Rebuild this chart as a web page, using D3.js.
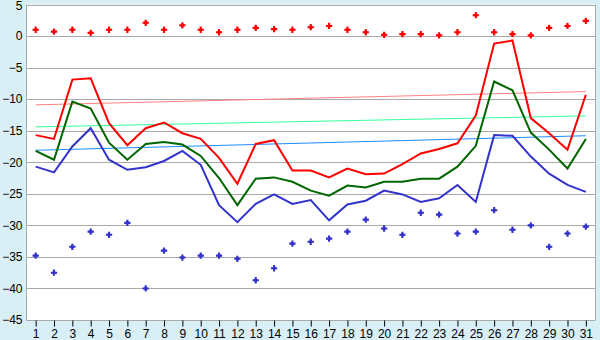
<!DOCTYPE html>
<html>
<head>
<meta charset="utf-8">
<script src="https://cdn.jsdelivr.net/npm/d3@7"></script>
<style>
  body { margin: 0; background: #d9eff6; }
  svg { display: block; font-family: 'DejaVu Sans', Verdana, sans-serif; }
</style>
</head>
<body>
<script>
// days of the month
let days = d3.range(1, 32);

// daily series
let maxTemp = [-15.7, -16.3, -6.9, -6.7, -13.8, -17.3, -14.6, -13.7, -15.4, -16.3,
  -19.3, -23.4, -17.1, -16.5, -21.3, -21.3, -22.4, -21.0, -21.9, -21.8,
  -20.3, -18.6, -17.9, -17.0, -12.6, -1.2, -0.7, -13.0, -15.4, -18.0, -9.3];
let meanTemp = [-18.2, -19.6, -10.4, -11.5, -16.9, -19.6, -17.1, -16.8, -17.2, -19.0,
  -22.5, -26.8, -22.6, -22.4, -23.1, -24.5, -25.3, -23.7, -24.0, -23.1,
  -23.1, -22.6, -22.6, -20.7, -17.4, -7.2, -8.6, -15.3, -18.0, -21.0, -16.3];
let minTemp = [-20.7, -21.6, -17.5, -14.6, -19.6, -21.2, -20.8, -19.8, -18.2, -20.4,
  -26.8, -29.5, -26.6, -25.1, -26.6, -26.0, -29.2, -26.7, -26.1, -24.5,
  -25.1, -26.3, -25.7, -23.6, -26.3, -15.7, -15.8, -19.1, -21.8, -23.6, -24.7];
let recordHigh = [1.0, 0.7, 1.0, 0.5, 1.0, 1.0, 2.1, 1.0, 1.7, 1.0,
  0.6, 1.0, 1.3, 1.1, 1.0, 1.4, 1.6, 1.0, 0.6, 0.2,
  0.3, 0.3, 0.1, 0.6, 3.3, 0.6, 0.3, 0.1, 1.3, 1.6, 2.4];
let recordLow = [-34.8, -37.5, -33.4, -31.0, -31.5, -29.6, -40.0, -34.0, -35.1, -34.8,
  -34.8, -35.3, -38.7, -36.8, -32.9, -32.6, -32.1, -31.0, -29.1, -30.5,
  -31.5, -28.0, -28.3, -31.3, -31.0, -27.6, -30.7, -30.0, -33.4, -31.3, -30.2];

// trend lines: value on day 1 and day 31
let trendMax = [-10.9, -8.8];
let trendMean = [-14.4, -12.65];
let trendMin = [-18.1, -15.8];

let yTicks = d3.range(-45, 6, 5);

let width = 600;
let height = 340;
let plot = { left: 26.5, right: 595, top: 4.5, bottom: 320 };

let svg = d3.select('body')
  .append('svg')
  .attr('width', width)
  .attr('height', height);

// background
svg.append('rect')
  .attr('width', width)
  .attr('height', height)
  .attr('fill', '#d9eff6');

svg.append('rect')
  .attr('x', plot.left)
  .attr('y', plot.top)
  .attr('width', plot.right - plot.left)
  .attr('height', plot.bottom - plot.top)
  .attr('fill', '#ffffff');

//scales
let x = d3.scalePoint()
  .domain(days)
  .range([plot.left, plot.right])
  .padding(0.5);

let y = d3.scaleLinear()
  .domain([-45, 5])
  .range([plot.bottom, plot.top]);

// horizontal grid
svg.append('g')
  .selectAll('line')
  .data(yTicks)
  .enter()
  .append('line')
  .attr('x1', plot.left)
  .attr('x2', plot.right)
  .attr('y1', function (d) { return Math.round(y(d)) + 0.5; })
  .attr('y2', function (d) { return Math.round(y(d)) + 0.5; })
  .attr('stroke', '#aaaaaa');

// frame left / right
svg.append('line')
  .attr('x1', plot.left).attr('x2', plot.left)
  .attr('y1', plot.top).attr('y2', plot.bottom + 0.5)
  .attr('stroke', '#aaaaaa');
svg.append('line')
  .attr('x1', plot.right + 0.5).attr('x2', plot.right + 0.5)
  .attr('y1', plot.top).attr('y2', plot.bottom + 0.5)
  .attr('stroke', '#aaaaaa');

// y axis labels
let yAxis = d3.axisLeft(y)
  .tickValues(yTicks)
  .tickSize(0)
  .tickPadding(4);

let yg = svg.append('g')
  .attr('transform', 'translate(' + plot.left + ',0)')
  .call(yAxis);
yg.select('.domain').remove();
yg.selectAll('text')
  .attr('font-size', 12)
  .attr('fill', '#000');
// top label sits against the edge, nudge it down a little
yg.selectAll('.tick')
  .filter(function (d) { return d === 5; })
  .select('text')
  .attr('dy', '0.45em');

// x axis
let xAxis = d3.axisBottom(x)
  .tickSize(6)
  .tickPadding(3);

let xg = svg.append('g')
  .attr('transform', 'translate(0,' + (Math.round(plot.bottom) + 0.5) + ')')
  .call(xAxis);
xg.select('.domain').remove();
xg.selectAll('line').attr('stroke', '#000');
xg.selectAll('text')
  .attr('font-size', 12)
  .attr('fill', '#000');

// trend lines
let trends = [
  { values: trendMax, color: '#ff8080' },
  { values: trendMean, color: '#33ff99' },
  { values: trendMin, color: '#1a8cff' }
];

let trendLine = d3.line()
  .x(function (d) { return x(d.day); })
  .y(function (d) { return y(d.value); });

trends.forEach(function (t) {
  svg.append('path')
    .attr('d', trendLine([
      { day: days[0], value: t.values[0] },
      { day: days[days.length - 1], value: t.values[1] }
    ]))
    .attr('fill', 'none')
    .attr('stroke', t.color)
    .attr('stroke-width', 1);
});

// daily lines
let line = d3.line()
  .x(function (d, i) { return x(days[i]); })
  .y(function (d) { return y(d); });

let series = [
  { values: minTemp, color: '#3333cc' },
  { values: meanTemp, color: '#006600' },
  { values: maxTemp, color: '#ff0000' }
];

series.forEach(function (s) {
  svg.append('path')
    .attr('d', line(s.values))
    .attr('fill', 'none')
    .attr('stroke', s.color)
    .attr('stroke-width', 2);
});

// record markers: a cross with a small diamond in the middle
let cross = d3.symbol().type(d3.symbolCross).size(22);
let centre = d3.symbol().type(d3.symbolDiamond2).size(14);

let records = [
  { values: recordHigh, color: '#ff0000' },
  { values: recordLow, color: '#3333cc' }
];

records.forEach(function (r) {
  let pts = svg.append('g')
    .selectAll('g')
    .data(r.values)
    .enter()
    .append('g')
    .attr('transform', function (d, i) {
      return 'translate(' + x(days[i]) + ',' + y(d) + ')';
    })
    .attr('fill', r.color);
  pts.append('path').attr('d', cross);
  pts.append('path').attr('d', centre);
});
</script>
</body>
</html>
